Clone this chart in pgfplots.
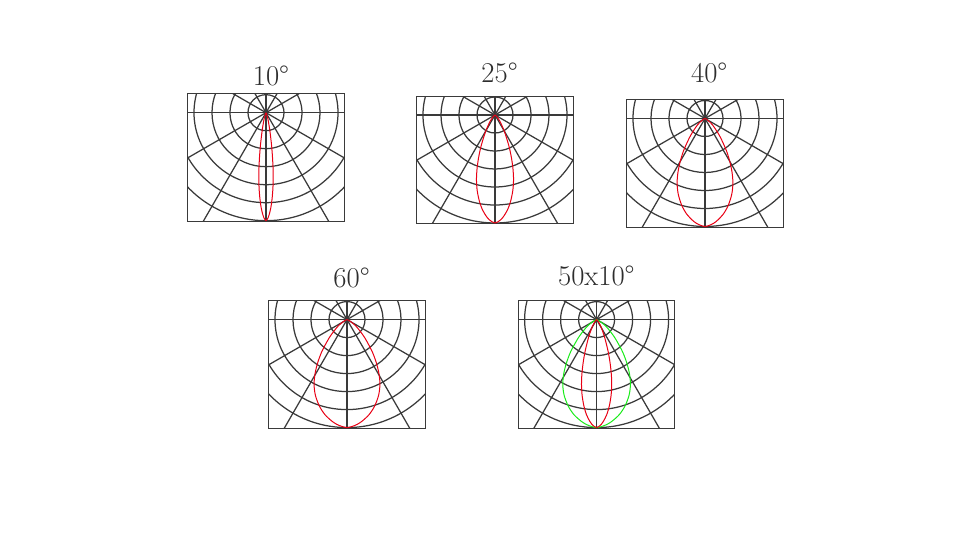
\documentclass[border=0pt]{standalone}
\usepackage{pgfplots}
\pgfplotsset{compat=1.18}
\definecolor{gridc}{RGB}{58,58,58}
\definecolor{lobered}{RGB}{232,0,20}
\definecolor{lobegreen}{RGB}{25,235,25}
\definecolor{titlec}{RGB}{45,45,45}
\newcommand{\polargrid}{%
  \draw[gridc, line width=1.25pt] (axis cs:0,0) circle[radius=18pt];
  \draw[gridc, line width=1.25pt] (axis cs:0,0) circle[radius=36pt];
  \draw[gridc, line width=1.25pt] (axis cs:0,0) circle[radius=54pt];
  \draw[gridc, line width=1.25pt] (axis cs:0,0) circle[radius=72pt];
  \draw[gridc, line width=1.25pt] (axis cs:0,0) circle[radius=90pt];
  \draw[gridc, line width=1.25pt] (axis cs:0,0) circle[radius=108pt];
  \draw[gridc, line width=1.25pt] (axis cs:-10,0) -- (axis cs:10,0);
  \draw[gridc, line width=1.25pt] (axis cs:-8.66,-5) -- (axis cs:8.66,5);
  \draw[gridc, line width=1.25pt] (axis cs:-5,-8.66) -- (axis cs:5,8.66);
  \draw[gridc, line width=1.25pt] (axis cs:0,-10) -- (axis cs:0,10);
  \draw[gridc, line width=1.25pt] (axis cs:-5,8.66) -- (axis cs:5,-8.66);
  \draw[gridc, line width=1.25pt] (axis cs:-8.66,5) -- (axis cs:8.66,-5);
}
\pgfplotsset{lobe/.style={x=18pt, y=18pt, xmin=-4.35, xmax=4.35, ymin=-6.05, ymax=1.05,
  ticks=none, axis line style={gridc, line width=1pt}, anchor=origin,
  title style={font=\fontsize{28.7}{32}\selectfont, text=titlec, anchor=base west,
    inner sep=0pt, yshift=0pt}}}
\begin{document}
\begin{tikzpicture}
\useasboundingbox (0,0) rectangle (953pt,540pt);
% 10
\begin{axis}[lobe, at={(266pt,427.3pt)}, title={10°},
  title style={at={(axis description cs:0.415,1.020)}}]
\polargrid
\addplot[lobered, line width=1pt, smooth] coordinates {
(0,0) (0.028,-0.06) (0.064,-0.18) (0.108,-0.36) (0.152,-0.6) (0.200,-0.9) (0.240,-1.2)
(0.308,-1.8) (0.356,-2.4) (0.388,-3) (0.400,-3.6) (0.384,-4.2) (0.336,-4.8) (0.268,-5.28)
(0.184,-5.64) (0.124,-5.82) (0.060,-5.94) (0,-6)
(-0.060,-5.94) (-0.124,-5.82) (-0.184,-5.64) (-0.268,-5.28) (-0.336,-4.8) (-0.384,-4.2)
(-0.400,-3.6) (-0.388,-3) (-0.356,-2.4) (-0.308,-1.8) (-0.240,-1.2) (-0.200,-0.9)
(-0.152,-0.6) (-0.108,-0.36) (-0.064,-0.18) (-0.028,-0.06) (0,0)};
\end{axis}
% 25
\begin{axis}[lobe, at={(495pt,425pt)}, title={25°},
  title style={at={(axis description cs:0.412,1.059)}}]
\polargrid
\addplot[lobered, line width=1pt, smooth] coordinates {
(0,0) (0.072,-0.06) (0.165,-0.18) (0.278,-0.36) (0.391,-0.6) (0.515,-0.9) (0.618,-1.2)
(0.793,-1.8) (0.917,-2.4) (0.999,-3) (1.030,-3.6) (0.989,-4.2) (0.865,-4.8) (0.690,-5.28)
(0.474,-5.64) (0.319,-5.82) (0.155,-5.94) (0,-6)
(-0.155,-5.94) (-0.319,-5.82) (-0.474,-5.64) (-0.690,-5.28) (-0.865,-4.8) (-0.989,-4.2)
(-1.030,-3.6) (-0.999,-3) (-0.917,-2.4) (-0.793,-1.8) (-0.618,-1.2) (-0.515,-0.9)
(-0.391,-0.6) (-0.278,-0.36) (-0.165,-0.18) (-0.072,-0.06) (0,0)};
\end{axis}
% 40
\begin{axis}[lobe, at={(705pt,421.5pt)}, title={40°},
  title style={at={(axis description cs:0.410,1.083)}}]
\polargrid
\addplot[lobered, line width=1pt, smooth] coordinates {
(0,0) (0.109,-0.06) (0.248,-0.18) (0.419,-0.36) (0.589,-0.6) (0.775,-0.9) (0.930,-1.2)
(1.194,-1.8) (1.380,-2.4) (1.504,-3) (1.550,-3.6) (1.488,-4.2) (1.302,-4.8) (1.039,-5.28)
(0.713,-5.64) (0.481,-5.82) (0.233,-5.94) (0,-6)
(-0.233,-5.94) (-0.481,-5.82) (-0.713,-5.64) (-1.039,-5.28) (-1.302,-4.8) (-1.488,-4.2)
(-1.550,-3.6) (-1.504,-3) (-1.380,-2.4) (-1.194,-1.8) (-0.930,-1.2) (-0.775,-0.9)
(-0.589,-0.6) (-0.419,-0.36) (-0.248,-0.18) (-0.109,-0.06) (0,0)};
\end{axis}
% 60
\begin{axis}[lobe, at={(347pt,220.4pt)}, title={60°},
  title style={at={(axis description cs:0.412,1.058)}}]
\polargrid
\addplot[lobered, line width=1pt, smooth] coordinates {
(0,0) (0.128,-0.06) (0.293,-0.18) (0.494,-0.36) (0.695,-0.6) (0.915,-0.9) (1.098,-1.2)
(1.409,-1.8) (1.629,-2.4) (1.775,-3) (1.830,-3.6) (1.757,-4.2) (1.537,-4.8) (1.226,-5.28)
(0.842,-5.64) (0.567,-5.82) (0.275,-5.94) (0,-6)
(-0.275,-5.94) (-0.567,-5.82) (-0.842,-5.64) (-1.226,-5.28) (-1.537,-4.8) (-1.757,-4.2)
(-1.830,-3.6) (-1.775,-3) (-1.629,-2.4) (-1.409,-1.8) (-1.098,-1.2) (-0.915,-0.9)
(-0.695,-0.6) (-0.494,-0.36) (-0.293,-0.18) (-0.128,-0.06) (0,0)};
\end{axis}
% 50x10
\begin{axis}[lobe, at={(596.6pt,220.4pt)}, title={50x10°},
  title style={at={(axis description cs:0.253,1.070)}}]
\polargrid
\addplot[lobegreen, line width=1pt, smooth] coordinates {
(0,0) (0.132,-0.06) (0.301,-0.18) (0.508,-0.36) (0.714,-0.6) (0.940,-0.9) (1.128,-1.2)
(1.448,-1.8) (1.673,-2.4) (1.824,-3) (1.880,-3.6) (1.805,-4.2) (1.579,-4.8) (1.260,-5.28)
(0.865,-5.64) (0.583,-5.82) (0.282,-5.94) (0,-6)
(-0.282,-5.94) (-0.583,-5.82) (-0.865,-5.64) (-1.260,-5.28) (-1.579,-4.8) (-1.805,-4.2)
(-1.880,-3.6) (-1.824,-3) (-1.673,-2.4) (-1.448,-1.8) (-1.128,-1.2) (-0.940,-0.9)
(-0.714,-0.6) (-0.508,-0.36) (-0.301,-0.18) (-0.132,-0.06) (0,0)};
\addplot[lobered, line width=1pt, smooth] coordinates {
(0,0) (0.059,-0.06) (0.134,-0.18) (0.227,-0.36) (0.319,-0.6) (0.420,-0.9) (0.504,-1.2)
(0.647,-1.8) (0.748,-2.4) (0.815,-3) (0.840,-3.6) (0.806,-4.2) (0.706,-4.8) (0.563,-5.28)
(0.386,-5.64) (0.260,-5.82) (0.126,-5.94) (0,-6)
(-0.126,-5.94) (-0.260,-5.82) (-0.386,-5.64) (-0.563,-5.28) (-0.706,-4.8) (-0.806,-4.2)
(-0.840,-3.6) (-0.815,-3) (-0.748,-2.4) (-0.647,-1.8) (-0.504,-1.2) (-0.420,-0.9)
(-0.319,-0.6) (-0.227,-0.36) (-0.134,-0.18) (-0.059,-0.06) (0,0)};
\end{axis}
\end{tikzpicture}
\end{document}
